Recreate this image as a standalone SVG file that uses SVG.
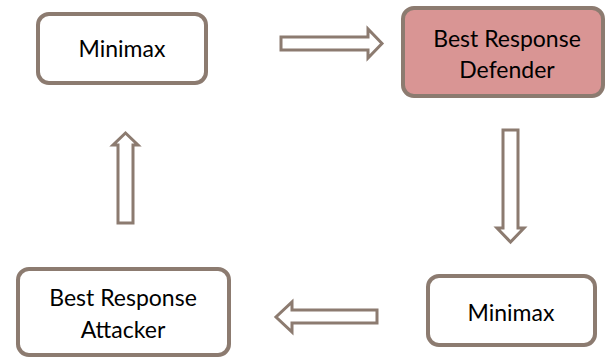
<svg xmlns="http://www.w3.org/2000/svg" width="608" height="358" viewBox="0 0 608 358">
<style>
.box{fill:#fff;stroke:#8c7b70;stroke-width:4}
.hl{fill:#d99594}
.arr{fill:#fff;stroke:#8c7b70;stroke-width:3;stroke-linejoin:miter}
text{font-family:Lato,"Open Sans",sans-serif;font-size:23px;fill:#000;text-anchor:middle}
</style>
<rect width="608" height="358" fill="#fff"/>
<g id="connectors">
<path class="arr" d="M281,37 H368 V29 L382,43.5 L368,58 V50 H281 Z"/>
<path class="arr" d="M503,130 H518 V228 H524 L510.5,242 L497,228 H503 Z"/>
<path class="arr" d="M377,310 H292 V302 L276,317 L292,332 V323 H377 Z"/>
<path class="arr" d="M118,223 V145 H113 L125.5,133 L138,145 H133 V223 Z"/>
</g>
<g id="minimax-top">
<rect class="box" x="38" y="14" width="168" height="69" rx="11"/>
<text x="122" y="57">Minimax</text>
</g>
<g id="br-defender">
<rect class="box hl" x="403" y="8" width="200" height="88" rx="11"/>
<text x="507" y="47">Best Response</text>
<text x="507" y="78">Defender</text>
</g>
<g id="minimax-bottom">
<rect class="box" x="428" y="276" width="167" height="69" rx="11"/>
<text x="511" y="321">Minimax</text>
</g>
<g id="br-attacker">
<rect class="box" x="18" y="269" width="211" height="86" rx="11"/>
<text x="123" y="306">Best Response</text>
<text x="123" y="338">Attacker</text>
</g>
</svg>
